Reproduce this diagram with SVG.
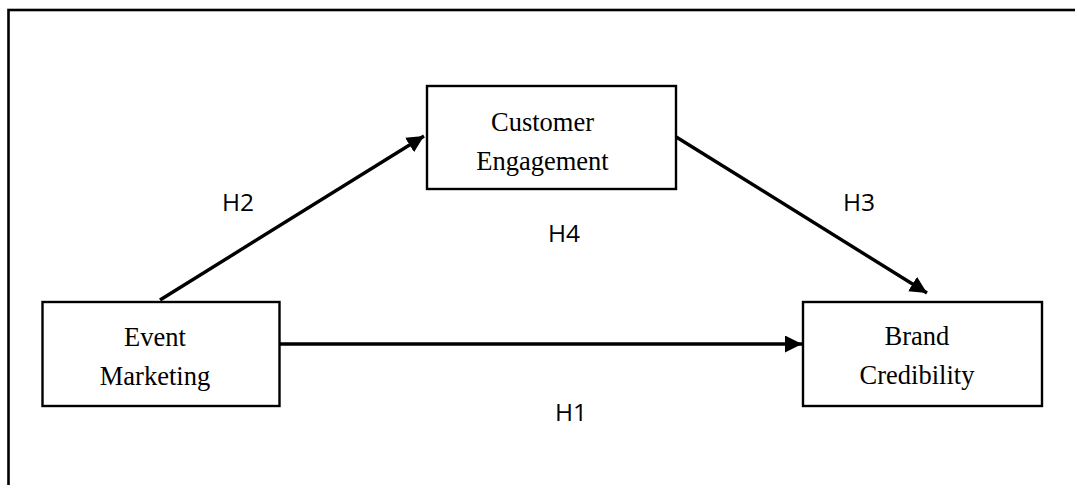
<svg xmlns="http://www.w3.org/2000/svg" width="1075" height="485" viewBox="0 0 1075 485">
  <style>
    .box { fill: #ffffff; stroke: #000000; stroke-width: 2.4; }
    .lbl { font-family: "Liberation Serif", "Times New Roman", serif; font-size: 26.5px; fill: #000000; text-anchor: middle; }
    .hyp { font-family: "Open Sans", "DejaVu Sans", sans-serif; font-size: 24.5px; fill: #000000; }
    .conn { stroke: #000000; stroke-width: 3.4; fill: none; marker-end: url(#arrow); }
  </style>
  <defs>
    <marker id="arrow" markerUnits="userSpaceOnUse" markerWidth="20" markerHeight="20" refX="17" refY="8.5" orient="auto">
      <path d="M0,0 L17,8.5 L0,17 Z" fill="#000000"/>
    </marker>
  </defs>
  <rect x="8.5" y="10" width="1100" height="520" fill="none" stroke="#000000" stroke-width="2.6"/>
  <g id="connectors">
    <line class="conn" x1="160" y1="300" x2="424" y2="136"/>
    <line class="conn" x1="673" y1="135" x2="927" y2="293"/>
    <line class="conn" x1="280" y1="344" x2="802" y2="344"/>
  </g>
  <g id="labels">
    <text class="hyp" x="222" y="211">H2</text>
    <text class="hyp" x="843" y="211">H3</text>
    <text class="hyp" x="548" y="242">H4</text>
    <text class="hyp" x="555" y="421">H1</text>
  </g>
  <g id="customer-engagement">
    <rect class="box" x="427" y="86" width="249" height="103"/>
    <text class="lbl" x="542.5" y="131">Customer</text>
    <text class="lbl" x="542.5" y="170">Engagement</text>
  </g>
  <g id="event-marketing">
    <rect class="box" x="42.5" y="302" width="237" height="104"/>
    <text class="lbl" x="155" y="346">Event</text>
    <text class="lbl" x="155" y="385">Marketing</text>
  </g>
  <g id="brand-credibility">
    <rect class="box" x="803" y="302" width="239" height="104"/>
    <text class="lbl" x="917" y="345">Brand</text>
    <text class="lbl" x="917" y="384">Credibility</text>
  </g>
</svg>
